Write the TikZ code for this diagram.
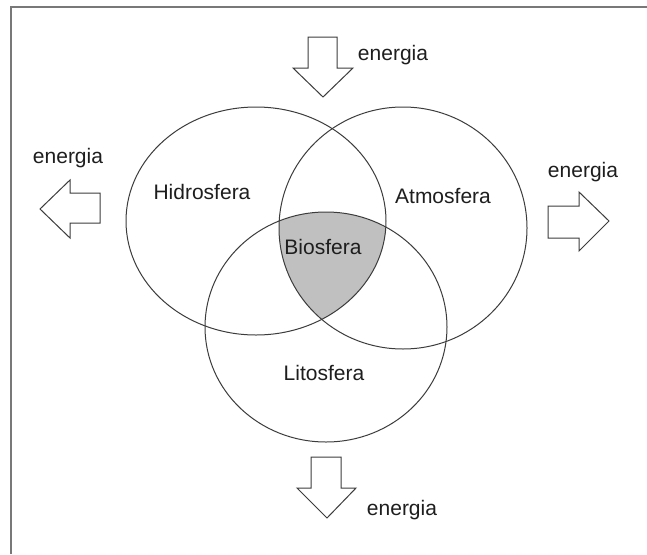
\documentclass[tikz,border=0pt]{standalone}
\usepackage{fontspec}
\setmainfont{Liberation Sans}
\definecolor{lineclr}{RGB}{60,60,60}
\definecolor{frameclr}{RGB}{120,120,120}
\definecolor{bioclr}{RGB}{192,192,192}
\definecolor{txtclr}{RGB}{30,30,30}
\begin{document}
\begin{tikzpicture}[x=1pt,y=-1pt,
  sphere/.style={draw=lineclr, line width=1pt},
  blockarrow/.style={draw=lineclr, line width=1pt, fill=white, line join=miter},
  lbl/.style={text=txtclr, font=\fontsize{21}{24}\selectfont, inner sep=0pt}]
\useasboundingbox (0,0) rectangle (647,554);
\fill[white] (0,0) rectangle (647,554);
\draw[frameclr, line width=2pt] (11,554) -- (11,7) -- (647,7);
% Biosfera shading
\begin{scope}
  \clip (256,221) ellipse [x radius=130pt, y radius=114pt];
  \clip (403,228) ellipse [x radius=124pt, y radius=121pt];
  \fill[bioclr] (326,327) ellipse [x radius=121pt, y radius=115pt];
\end{scope}
\draw[sphere] (256,221) ellipse [x radius=130pt, y radius=114pt];
\draw[sphere] (403,228) ellipse [x radius=124pt, y radius=121pt];
\draw[sphere] (326,327) ellipse [x radius=121pt, y radius=115pt];
\node[lbl] (hidro) at (202,192) {Hidrosfera};
\node[lbl] (atmo) at (443,196) {Atmosfera};
\node[lbl] (bio) at (323,247) {Biosfera};
\node[lbl] (lito) at (324,373) {Litosfera};
% energy arrows
\draw[blockarrow] (308,37) -- (337,37) -- (337,68) -- (353,68) -- (323,97) -- (293,68) -- (308,68) -- cycle;
\draw[blockarrow] (40,209) -- (70,180) -- (70,193) -- (100,193) -- (100,223) -- (70,223) -- (70,238) -- cycle;
\draw[blockarrow] (548,206) -- (579,206) -- (579,192) -- (609,221) -- (579,251) -- (579,238) -- (548,238) -- cycle;
\draw[blockarrow] (311,457) -- (341,457) -- (341,488) -- (356,488) -- (327,518) -- (297,488) -- (311,488) -- cycle;
\node[lbl] (etop) at (393,55) {energia};
\node[lbl] (eleft) at (68,158) {energia};
\node[lbl] (eright) at (583,172) {energia};
\node[lbl] (ebottom) at (402,510) {energia};
\end{tikzpicture}
\end{document}
